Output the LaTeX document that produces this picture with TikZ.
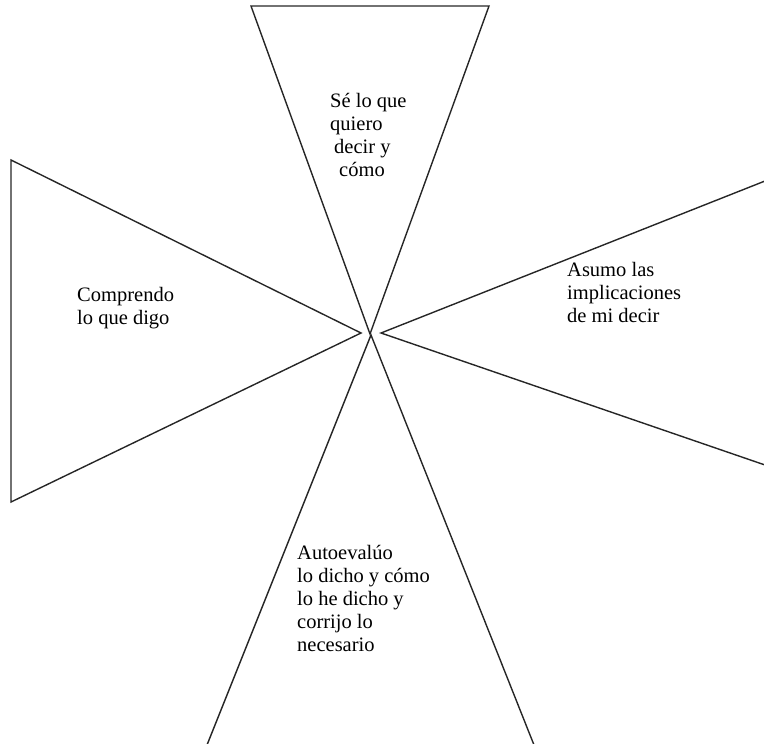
\documentclass[tikz,border=0pt]{standalone}
\usepackage{fontspec}
\setmainfont{Liberation Serif}
\usepackage{tikz}
\usetikzlibrary{positioning}

\tikzset{
  borde/.style={line width=1.4pt, black!85},
  texto/.style={anchor=north west, inner sep=0pt, align=left,
    font=\fontsize{20.5}{23}\selectfont}
}

\begin{document}
\begin{tikzpicture}[x=1pt,y=-1pt]
        \useasboundingbox (0,0) rectangle (764,744);

        % Triangulo superior
        \draw[borde] (251,6) -- (489,6) -- (370,334) -- cycle;
        \node[texto] (arriba) at (330,93) {Sé lo que\\quiero\\\hspace*{4pt}decir y\\\hspace*{9pt}cómo};

        % Triangulo izquierdo
        \draw[borde] (11,160) -- (11,502) -- (361,333) -- cycle;
        \node[texto] (izquierda) at (77,287) {Comprendo\\lo que digo};

        % Triangulo derecho
        \draw[borde] (765,181) -- (381,333) -- (765,465);
        \node[texto] (derecha) at (567,262) {Asumo las\\implicaciones\\de mi decir};

        % Triangulo inferior
        \draw[borde] (207,745) -- (371,335) -- (534,745);
        \node[texto] (abajo) at (297,545) {Autoevalúo\\lo dicho y cómo\\lo he dicho y\\corrijo lo\\necesario};

    \end{tikzpicture}
\end{document}
